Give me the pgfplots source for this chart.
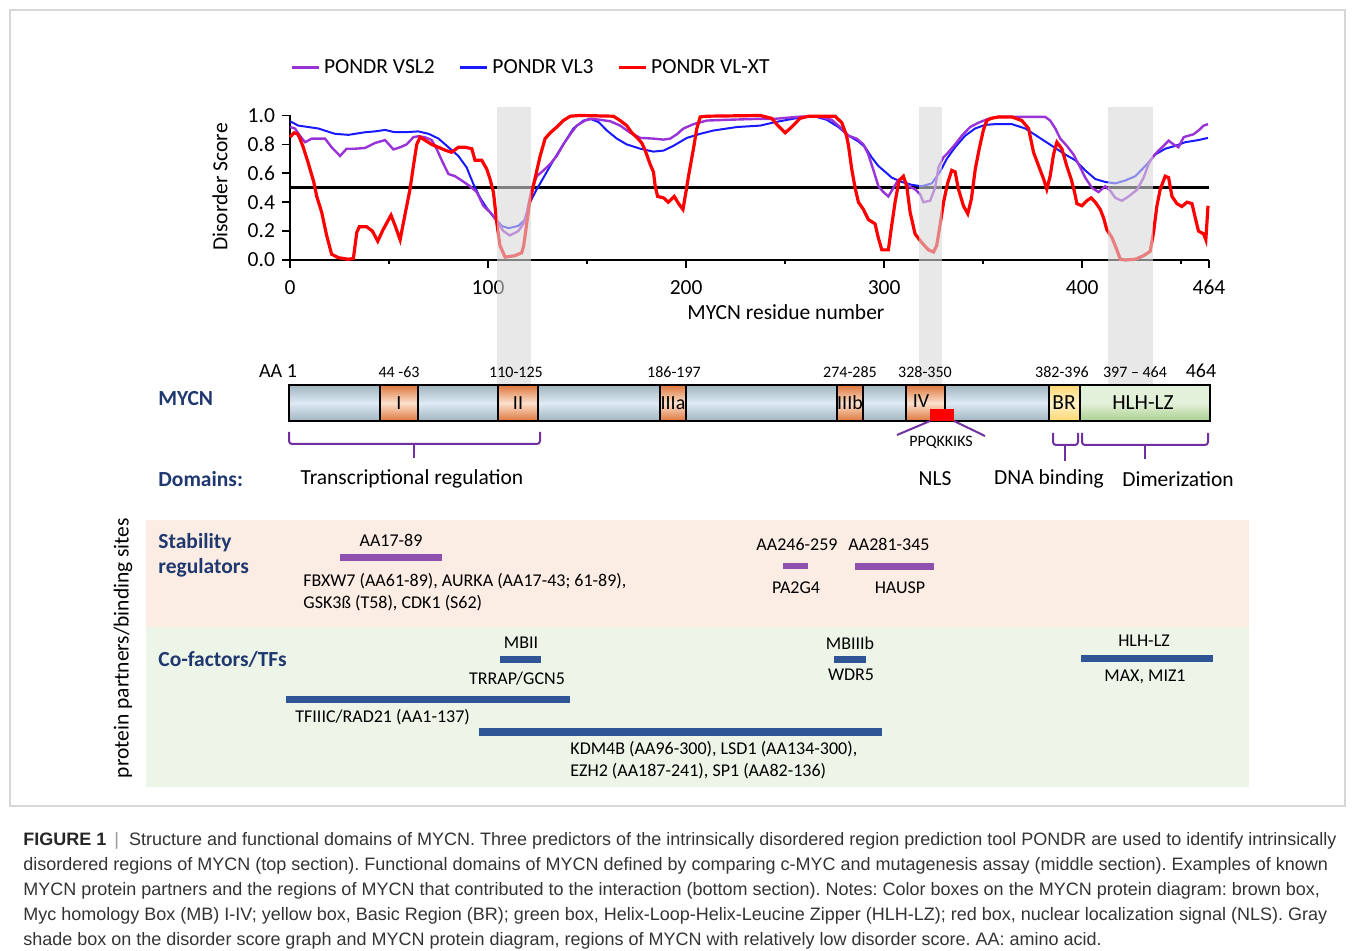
\documentclass[border=0pt]{standalone}
\usepackage{pgfplots}
\pgfplotsset{compat=1.18}
\usepackage{fontspec}
\setmainfont{Carlito}
\newfontfamily\capfont{Liberation Sans}
\frenchspacing
\definecolor{vsl}{RGB}{153,50,215}
\definecolor{vlthree}{RGB}{25,25,255}
\definecolor{vlxt}{RGB}{255,0,0}
\definecolor{navy}{RGB}{31,56,112}
\definecolor{brk}{RGB}{112,48,160}
\definecolor{pbar}{RGB}{143,80,175}
\definecolor{bbar}{RGB}{47,85,151}
\definecolor{barEdge}{RGB}{160,180,192}
\definecolor{barMid}{RGB}{222,234,244}
\definecolor{orEdge}{RGB}{222,118,60}
\definecolor{orMid}{RGB}{251,224,205}
\definecolor{yeEdge}{RGB}{255,215,115}
\definecolor{yeMid}{RGB}{255,242,200}
\definecolor{grEdge}{RGB}{168,208,141}
\definecolor{grMid}{RGB}{228,241,218}
\definecolor{pinkbg}{RGB}{251,237,228}
\definecolor{greenbg}{RGB}{237,245,232}
\definecolor{capgray}{RGB}{51,51,51}
\definecolor{bandgray}{RGB}{216,216,216}
\definecolor{bandsolid}{RGB}{232,232,232}
\definecolor{framegray}{RGB}{215,215,215}
\newcommand{\fm}{\fontsize{10.75}{13}\selectfont}
\newcommand{\fb}{\fontsize{10}{12}\selectfont}
\newcommand{\fs}{\fontsize{8}{9.6}\selectfont}
\newcommand{\fp}{\fontsize{9}{10.8}\selectfont}
\newcommand{\fcap}{\capfont\fontsize{9}{11}\selectfont}
\pgfplotsset{canvas/.style={at={(0pt,0pt)}, anchor=south west, scale only axis,
  width=677.5pt, height=475.5pt, xmin=0, xmax=1355, ymin=0, ymax=951,
  y dir=reverse, hide axis, clip=false}}
\tikzset{obox/.style={top color=orEdge, bottom color=orEdge, middle color=orMid, draw=black, line width=0.8pt}}
\begin{document}
\begin{tikzpicture}
% ---------------- background canvas (pixel coordinates) ----------------
\begin{axis}[canvas]
\path (0,0) rectangle (1355,951);
\draw[framegray, line width=0.6pt] (10,10) rectangle (1345,806);
% band lower parts (behind labels)
\fill[bandsolid] (497,300) rectangle (531,385);
\fill[bandsolid] (919,300) rectangle (942,385);
\fill[bandsolid] (1108,300) rectangle (1153,385);
% protein diagram
\shade[top color=barEdge, bottom color=barEdge, middle color=barMid] (289,385) rectangle (1210,421);
\shade[obox] (380,385) rectangle (418,421);
\shade[obox] (498,385) rectangle (538,421);
\shade[obox] (660,385) rectangle (686,421);
\shade[obox] (837,385) rectangle (863,421);
\shade[obox] (906,385) rectangle (945,421);
\draw[black, line width=0.8pt] (380,385) rectangle (418,421);
\draw[black, line width=0.8pt] (498,385) rectangle (538,421);
\draw[black, line width=0.8pt] (660,385) rectangle (686,421);
\draw[black, line width=0.8pt] (837,385) rectangle (863,421);
\draw[black, line width=0.8pt] (906,385) rectangle (945,421);
\shade[top color=yeEdge, bottom color=yeEdge, middle color=yeMid] (1049,385) rectangle (1080,421);
\shade[top color=grMid, bottom color=grEdge, middle color=grMid] (1080,385) rectangle (1210,421);
\draw[black, line width=0.8pt] (1049,385) rectangle (1080,421);
\draw[black, line width=1pt] (289,385) rectangle (1210,421);
\fill[red] (930,409) rectangle (954,421);
\draw[brk, line width=1pt] (930,421) -- (897,435);
\draw[brk, line width=1pt] (954,421) -- (985,436);
\node[font=\fb] at (399,403) {I};
\node[font=\fb] at (518,403) {II};
\node[font=\fb] at (673,403) {IIIa};
\node[font=\fb] at (850,403) {IIIb};
\node[font=\fb] at (921,401) {IV};
\node[font=\fm] at (1064,403) {BR};
\node[font=\fm] at (1143,403) {HLH-LZ};
% labels above the bar
\node[font=\fb] at (278,371) {AA 1};
\node[font=\fs] at (399,372) {44 -63};
\node[font=\fs] at (516,372) {110-125};
\node[font=\fs] at (674,372) {186-197};
\node[font=\fs] at (850,372) {274-285};
\node[font=\fs] at (925,372) {328-350};
\node[font=\fs] at (1062,372) {382-396};
\node[font=\fs] at (1135,372) {397 – 464};
\node[font=\fb] at (1201,371) {464};
\node[font=\fm\bfseries, text=navy, anchor=west, inner sep=0pt] at (158,399) {MYCN};
\node[font=\fs] at (941,442) {PPQKKIKS};
% brackets
\draw[brk, line width=1pt, rounded corners=1.5pt] (289,432) -- (289,444) -- (540,444) -- (540,432);
\draw[brk, line width=1pt] (414,444) -- (414,458);
\draw[brk, line width=1pt, rounded corners=1.5pt] (1053,433) -- (1053,445) -- (1078,445) -- (1078,433);
\draw[brk, line width=1pt] (1065,445) -- (1065,461);
\draw[brk, line width=1pt, rounded corners=1.5pt] (1082,433) -- (1082,445) -- (1208,445) -- (1208,433);
\draw[brk, line width=1pt] (1145,445) -- (1145,459);
% domains row
\node[font=\fm\bfseries, text=navy, anchor=west, inner sep=0pt] at (158,479) {Domains:};
\node[font=\fm] at (412,479) {Transcriptional regulation};
\node[font=\fm] at (935,479) {NLS};
\node[font=\fm] at (1049,479) {DNA binding};
\node[font=\fm] at (1178,479) {Dimerization};
% partners region
\fill[pinkbg] (146,520) rectangle (1249,627);
\fill[greenbg] (146,627) rectangle (1249,787);
\node[font=\fm, rotate=90] at (123,648) {protein partners/binding sites};
\node[font=\fm\bfseries, text=navy, anchor=west, inner sep=0pt] at (158,543) {Stability};
\node[font=\fm\bfseries, text=navy, anchor=west, inner sep=0pt] at (158,568) {regulators};
\node[font=\fp] at (391,540) {AA17-89};
\fill[pbar] (340,554) rectangle (442,561);
\node[font=\fp, anchor=west, inner sep=0pt] at (303,581) {FBXW7 (AA61-89), AURKA (AA17-43; 61-89),};
\node[font=\fp, anchor=west, inner sep=0pt] at (303,603) {GSK3ß (T58), CDK1 (S62)};
\node[font=\fp] at (797,544) {AA246-259};
\fill[pbar] (783,563) rectangle (808,569);
\node[font=\fp] at (796,588) {PA2G4};
\node[font=\fp] at (889,544) {AA281-345};
\fill[pbar] (855,563) rectangle (934,570);
\node[font=\fp] at (900,588) {HAUSP};
\node[font=\fm\bfseries, text=navy, anchor=west, inner sep=0pt] at (158,659) {Co-factors/TFs};
\node[font=\fp] at (521,643) {MBII};
\fill[bbar] (500,656) rectangle (541,663);
\node[font=\fp] at (517,679) {TRRAP/GCN5};
\fill[bbar] (286,696) rectangle (570,703);
\node[font=\fp, anchor=west, inner sep=0pt] at (295,717) {TFIIIC/RAD21 (AA1-137)};
\fill[bbar] (479,728) rectangle (882,736);
\node[font=\fp, anchor=west, inner sep=0pt] at (570,749) {KDM4B (AA96-300), LSD1 (AA134-300),};
\node[font=\fp, anchor=west, inner sep=0pt] at (570,771) {EZH2 (AA187-241), SP1 (AA82-136)};
\node[font=\fp] at (850,643) {MBIIIb};
\fill[bbar] (834,656) rectangle (866,663);
\node[font=\fp] at (851,675) {WDR5};
\node[font=\fp] at (1144,641) {HLH-LZ};
\fill[bbar] (1081,655) rectangle (1213,662);
\node[font=\fp] at (1145,677) {MAX, MIZ1};
% caption
\node[font=\fcap, text=capgray, anchor=base west, inner sep=0pt] at (23,845) {{\color{black!85}\bfseries FIGURE 1}\hspace{4pt}{\color{black!40}|}\hspace{5pt}Structure and functional domains of MYCN. Three predictors of the intrinsically disordered region prediction tool PONDR are used to identify intrinsically};
\node[font=\fcap, text=capgray, anchor=base west, inner sep=0pt] at (23,870) {disordered regions of MYCN (top section). Functional domains of MYCN defined by comparing c-MYC and mutagenesis assay (middle section). Examples of known};
\node[font=\fcap, text=capgray, anchor=base west, inner sep=0pt] at (23,895) {MYCN protein partners and the regions of MYCN that contributed to the interaction (bottom section). Notes: Color boxes on the MYCN protein diagram: brown box,};
\node[font=\fcap, text=capgray, anchor=base west, inner sep=0pt] at (23,920) {Myc homology Box (MB) I-IV; yellow box, Basic Region (BR); green box, Helix-Loop-Helix-Leucine Zipper (HLH-LZ); red box, nuclear localization signal (NLS). Gray};
\node[font=\fcap, text=capgray, anchor=base west, inner sep=0pt] at (23,945) {shade box on the disorder score graph and MYCN protein diagram, regions of MYCN with relatively low disorder score. AA: amino acid.};
\end{axis}
% ---------------- disorder score plot ----------------
\begin{axis}[
  at={(145pt,345.5pt)}, anchor=south west,
  scale only axis, width=459.5pt, height=72.25pt,
  xmin=0, xmax=464, ymin=0, ymax=1, clip=false,
  axis x line*=bottom, axis y line*=left,
  axis line style={line width=0.8pt},
  xtick={0,100,200,300,400,464},
  minor xtick={50,150,250,350,450},
  ytick={0,0.2,0.4,0.6,0.8,1.0},
  tick align=outside, major tick length=4pt, minor tick length=2pt,
  tick style={black, line width=0.8pt},
  /pgf/number format/assume math mode=true,
  xticklabel style={font=\fm, yshift=-2.5pt},
  yticklabel style={font=\fm, /pgf/number format/.cd, fixed, fixed zerofill, precision=1},
  xlabel={MYCN residue number}, ylabel={Disorder Score},
  label style={font=\fm},
  xlabel style={at={(axis description cs:0.5397,-0.36)}, anchor=center},
  ylabel style={at={(axis description cs:-0.0762,0.505)}, anchor=center},
  legend style={at={(axis description cs:0,1.33)}, anchor=west, draw=none, fill=none,
    legend columns=3, font=\fm, inner sep=0pt,
    /tikz/every even column/.append style={column sep=10pt}},
  legend image code/.code={\draw[#1] (0pt,0pt) -- (13.5pt,0pt);},
]
\addlegendimage{vsl, line width=1.3pt}
\addlegendimage{vlthree, line width=1.3pt}
\addlegendimage{vlxt, line width=1.3pt}
\addplot[black, line width=1.3pt, forget plot] coordinates {(0,0.5) (464,0.5)};
% PONDR VL3
\addplot[vlthree, line width=1pt, forget plot] coordinates {
(0,0.96) (4.2,0.93) (9.3,0.92) (14.3,0.91) (22.7,0.873) (29.5,0.866) (37.9,0.884) (43,0.89) (48,0.90) (53,0.884) (58,0.884) (64.8,0.89) (70,0.873) (75,0.84) (80,0.78) (85,0.72) (89.2,0.64) (92.6,0.525) (96,0.43) (99.3,0.36) (103.5,0.29) (106.9,0.236) (110.3,0.22) (115.3,0.236) (118.7,0.28) (121.2,0.40) (124.6,0.49) (128,0.57) (133,0.69) (138,0.80) (143.1,0.91) (148.2,0.965) (151.6,0.977) (155.8,0.954) (160,0.896) (165,0.84) (170,0.80) (176.8,0.77) (183.5,0.75) (188.6,0.757) (193.6,0.79) (200.4,0.845) (207.1,0.873) (213.8,0.896) (225.6,0.92) (237.4,0.93) (244.9,0.954) (256.7,0.984) (265.1,0.993) (271,0.97) (276.9,0.92) (282,0.86) (287,0.82) (290.4,0.78) (293.7,0.71) (297.1,0.65) (300.5,0.61) (303.8,0.57) (308.9,0.54) (313.9,0.52) (319,0.51) (324,0.53) (328.2,0.61) (331.6,0.70) (335.8,0.78) (340.9,0.86) (345.9,0.91) (351,0.935) (356,0.94) (364.5,0.94) (371.2,0.91) (378,0.85) (384.7,0.79) (391.4,0.73) (396.5,0.69) (401.5,0.62) (406.6,0.56) (411.6,0.54) (416.7,0.53) (421.7,0.55) (426.8,0.58) (431.8,0.65) (436.9,0.73) (441.9,0.77) (447,0.79) (452,0.815) (458.7,0.83) (463.5,0.845)
};
% PONDR VSL2
\addplot[vsl, line width=1.2pt, forget plot] coordinates {
(0,0.92) (2.5,0.91) (5,0.86) (7.6,0.815) (11,0.84) (14.3,0.84) (17.7,0.84) (21,0.78) (25.3,0.72) (28.6,0.77) (32.8,0.77) (37.9,0.775) (43,0.81) (48,0.83) (52.2,0.765) (55.6,0.78) (58.9,0.80) (62.3,0.85) (64.8,0.856) (68,0.85) (71.5,0.83) (74,0.77) (76.6,0.69) (80,0.595) (83.3,0.58) (86.7,0.55) (90.9,0.51) (94.3,0.47) (97.6,0.375) (101,0.33) (104.4,0.27) (107.7,0.20) (111,0.17) (115.3,0.20) (117.8,0.25) (119.6,0.33) (122,0.49) (124.6,0.58) (128,0.62) (131.4,0.665) (134.7,0.72) (138,0.80) (141.5,0.87) (144.8,0.93) (149,0.965) (152.4,0.977) (156.6,0.97) (161.7,0.96) (166.7,0.93) (171.8,0.88) (176.8,0.845) (183.5,0.84) (188.6,0.833) (192,0.84) (195.3,0.87) (198.7,0.91) (203.7,0.94) (210.5,0.965) (220.6,0.97) (237.4,0.977) (245,0.977) (258.4,0.993) (266.8,0.993) (273.5,0.97) (277.7,0.92) (282,0.86) (286.1,0.84) (289.5,0.80) (292,0.73) (294.6,0.62) (297.1,0.51) (299.6,0.47) (302.1,0.44) (304.7,0.50) (307.2,0.555) (309.7,0.565) (312.2,0.51) (315.6,0.49) (318.1,0.456) (319.8,0.40) (323.2,0.41) (325.7,0.50) (327.4,0.64) (329.9,0.71) (332.4,0.745) (335.8,0.80) (339.2,0.86) (343.4,0.92) (347.6,0.95) (352.6,0.977) (357.7,0.99) (381.3,0.99) (383.8,0.965) (386.4,0.91) (388.9,0.84) (392.2,0.79) (395.6,0.73) (399,0.64) (401.5,0.57) (404.9,0.50) (408.2,0.47) (411.6,0.51) (414.1,0.48) (416.7,0.43) (420,0.41) (423.4,0.44) (427.6,0.485) (431,0.57) (433.5,0.665) (436,0.72) (438.5,0.757) (441.1,0.79) (443.6,0.826) (446.1,0.80) (448.6,0.78) (451.2,0.85) (453.7,0.86) (456.2,0.87) (458.7,0.896) (461.3,0.93) (463.5,0.94)
};
% PONDR VL-XT
\addplot[vlxt, line width=1.6pt, forget plot] coordinates {
(0,0.85) (2,0.88) (4,0.87) (5,0.84) (6.7,0.78) (9,0.68) (12,0.54) (13.5,0.44) (16,0.33) (18.5,0.17) (21,0.04) (24.4,0.016) (29.5,0.005) (32,0.01) (33.7,0.19) (35,0.23) (38.7,0.23) (41.6,0.20) (44.3,0.13) (47,0.21) (51,0.31) (53,0.24) (55.6,0.14) (58,0.31) (60.6,0.49) (62.3,0.65) (64,0.80) (65.7,0.85) (68,0.83) (71.5,0.80) (75,0.78) (78.3,0.76) (81.6,0.745) (85,0.78) (88.4,0.78) (91.8,0.77) (93.4,0.69) (96.8,0.69) (99.3,0.63) (101,0.56) (102.7,0.47) (104.4,0.26) (106,0.10) (108.6,0.02) (113.6,0.03) (117,0.05) (118,0.10) (119.6,0.26) (121,0.40) (123.8,0.57) (126.3,0.72) (128.8,0.84) (131.4,0.88) (134.7,0.92) (138,0.965) (141.5,0.995) (146.5,1.0) (163.3,0.995) (166.7,0.965) (170,0.93) (172.6,0.88) (175,0.85) (177.6,0.81) (179.3,0.76) (181.9,0.66) (183.5,0.61) (184.4,0.51) (185.6,0.44) (188.6,0.43) (191,0.40) (194,0.44) (196.2,0.39) (198.4,0.35) (199.9,0.47) (201.2,0.58) (203.7,0.77) (205.4,0.91) (207.1,0.99) (210.5,0.995) (237.4,1.0) (243.2,0.98) (245.7,0.94) (250,0.88) (253.3,0.92) (257.5,0.98) (261.7,0.995) (275.2,0.995) (278.6,0.95) (281,0.86) (282,0.79) (283.6,0.63) (285.3,0.50) (287,0.40) (289.5,0.35) (292,0.28) (295.4,0.25) (297,0.155) (298.8,0.07) (302.1,0.07) (303.8,0.24) (305.5,0.40) (307.5,0.55) (309.7,0.58) (311.4,0.51) (313.1,0.33) (315.6,0.18) (319,0.12) (322.3,0.07) (324.9,0.055) (326.5,0.10) (328.2,0.24) (330,0.40) (332,0.53) (334.1,0.62) (335.8,0.61) (337.5,0.49) (340,0.375) (342.2,0.32) (344,0.42) (346,0.63) (348,0.77) (350.1,0.90) (351.8,0.965) (354,0.98) (357.7,0.99) (364.5,0.99) (369.5,0.965) (372.9,0.91) (375.4,0.745) (378,0.65) (380.5,0.56) (382.1,0.49) (383.8,0.58) (385.5,0.73) (387.2,0.815) (389.7,0.77) (392.2,0.65) (394.4,0.56) (396.1,0.47) (397.3,0.39) (399.8,0.375) (402.3,0.41) (404.5,0.43) (406.6,0.40) (409.1,0.35) (410.8,0.29) (412.4,0.21) (415,0.155) (417.5,0.07) (419.2,0.005) (421.7,0) (426.8,0.005) (431,0.03) (434.3,0.06) (436,0.19) (437.7,0.375) (439.4,0.49) (441.9,0.58) (443.6,0.57) (445.3,0.44) (447.8,0.39) (450.3,0.37) (452.9,0.40) (455.4,0.39) (457.1,0.29) (458.7,0.20) (461.3,0.18) (462.4,0.14) (463.5,0.375)
};
\legend{PONDR VSL2, PONDR VL3, PONDR VL-XT}
\end{axis}
% ---------------- translucent gray bands on top ----------------
\begin{axis}[canvas]
\fill[bandgray, opacity=0.59] (497,107) rectangle (531,300);
\fill[bandgray, opacity=0.59] (919,107) rectangle (942,300);
\fill[bandgray, opacity=0.59] (1108,107) rectangle (1153,300);
\end{axis}
\end{tikzpicture}
\end{document}
